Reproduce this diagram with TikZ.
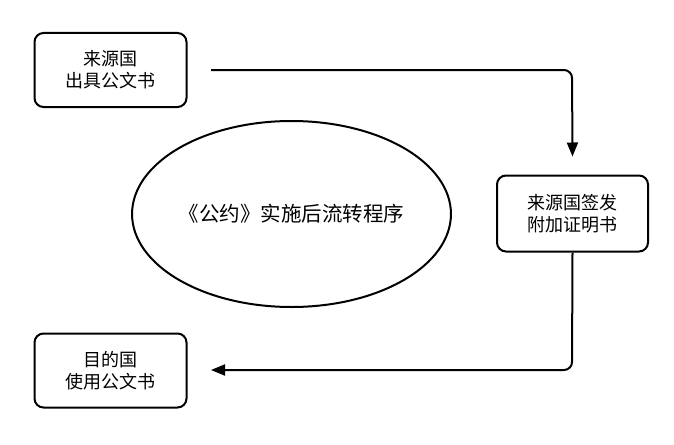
\documentclass[tikz,border=0pt]{standalone}
\usepackage{fontspec}
\newfontfamily\cjk{Noto Sans CJK SC}
\usetikzlibrary{arrows.meta,shapes.geometric}
\begin{document}
\begin{tikzpicture}[x=1pt,y=-1pt,
  box/.style={draw,line width=2pt,rounded corners=9pt,align=center,
    font=\cjk\fontsize{18}{22}\selectfont,inner sep=0pt},
  flow/.style={line width=2pt,rounded corners=8pt,-{Triangle[length=14pt,width=11pt]}}]
\useasboundingbox (0,0) rectangle (674,444);
\node[box,minimum width=152pt,minimum height=74pt] (src) at (110.5,70) {来源国\\出具公文书};
\node[box,minimum width=151pt,minimum height=76pt] (add) at (572.5,213.5) {来源国签发\\附加证明书};
\node[box,minimum width=152pt,minimum height=74pt] (dst) at (110.5,370.5) {目的国\\使用公文书};
\node[draw,ellipse,line width=2pt,minimum width=312pt,minimum height=186pt,inner sep=0pt,
  font=\cjk\fontsize{20.5}{22}\selectfont] (ell) at (291.5,214) {《公约》实施后流转程序};
\coordinate (a1) at (211,70);
\coordinate (a2) at (211,370);
\draw[flow] (a1) -- (572,70) -- ([yshift=18pt]add.north);
\draw[flow] (add.south) -- (572,370) -- (a2);
\end{tikzpicture}
\end{document}
